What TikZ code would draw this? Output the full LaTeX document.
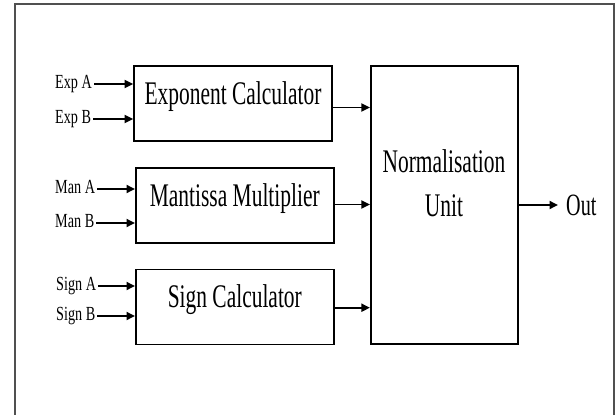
\documentclass[tikz,border=0pt]{standalone}
\usepackage{fontspec}
\setmainfont{Liberation Serif}
\newfontfamily\bigserif[FakeStretch=0.65]{Liberation Serif}
\newfontfamily\smallserif[FakeStretch=0.71]{Liberation Serif}
\usetikzlibrary{arrows.meta}
\definecolor{framegray}{RGB}{80,80,80}
\begin{document}
\begin{tikzpicture}[x=1pt,y=-1pt,
  box/.style={draw, line width=1.6pt, inner sep=0pt},
  blk/.style={box, minimum width=198pt, font=\bigserif\fontsize{33}{38}\selectfont, text height=38pt, text depth=37pt},
  lbl/.style={font=\smallserif\fontsize{20}{24}\selectfont, inner xsep=2pt, inner ysep=0pt, text height=12pt, text depth=4pt, anchor=west},
  arr/.style={line width=1.8pt, -{Triangle[length=8.5pt,width=8pt]}}]
\useasboundingbox (0,0) rectangle (616,415);
\draw[framegray, line width=1.5pt] (15,415) -- (15,4) -- (614,4) -- (614,415);

\node[blk] (exp) at (233,103.5) {Exponent Calculator};
\node[blk] (man) at (234.8,205.5) {Mantissa Multiplier};
\node[blk] (sgn) at (234.8,307) {Sign Calculator};

\node[box, minimum width=147pt, minimum height=278pt] (nu) at (444.2,205) {};
\node[font=\bigserif\fontsize{33}{44}\selectfont, align=center] (nut) at (444,183) {Normalisation\\Unit};
\node[font=\bigserif\fontsize{31}{36}\selectfont, anchor=base west, inner sep=0pt] (out) at (566,215) {Out};

\node[lbl] (ea) at (53,84) {Exp A};
\node[lbl] (eb) at (53,119) {Exp B};
\node[lbl] (ma) at (53,189) {Man A};
\node[lbl] (mb) at (53,223) {Man B};
\node[lbl] (sa) at (54,286) {Sign A};
\node[lbl] (sb) at (54,316) {Sign B};

\draw[arr] (ea.east) -- (ea.east -| exp.west);
\draw[arr] (eb.east) -- (eb.east -| exp.west);
\draw[arr] (ma.east) -- (ma.east -| man.west);
\draw[arr] (mb.east) -- (mb.east -| man.west);
\draw[arr] (sa.east) -- (sa.east -| sgn.west);
\draw[arr] (sb.east) -- (sb.east -| sgn.west);

\draw[arr] ([yshift=-4pt]exp.east) -- ([yshift=-4pt]exp.east -| nu.west);
\draw[arr] ([yshift=1pt]man.east) -- ([yshift=1pt]man.east -| nu.west);
\draw[arr] ([yshift=-0.7pt]sgn.east) -- ([yshift=-0.7pt]sgn.east -| nu.west);
\draw[arr, shorten >=8pt] (nu.east) -- (nu.east -| out.west);
\end{tikzpicture}
\end{document}
